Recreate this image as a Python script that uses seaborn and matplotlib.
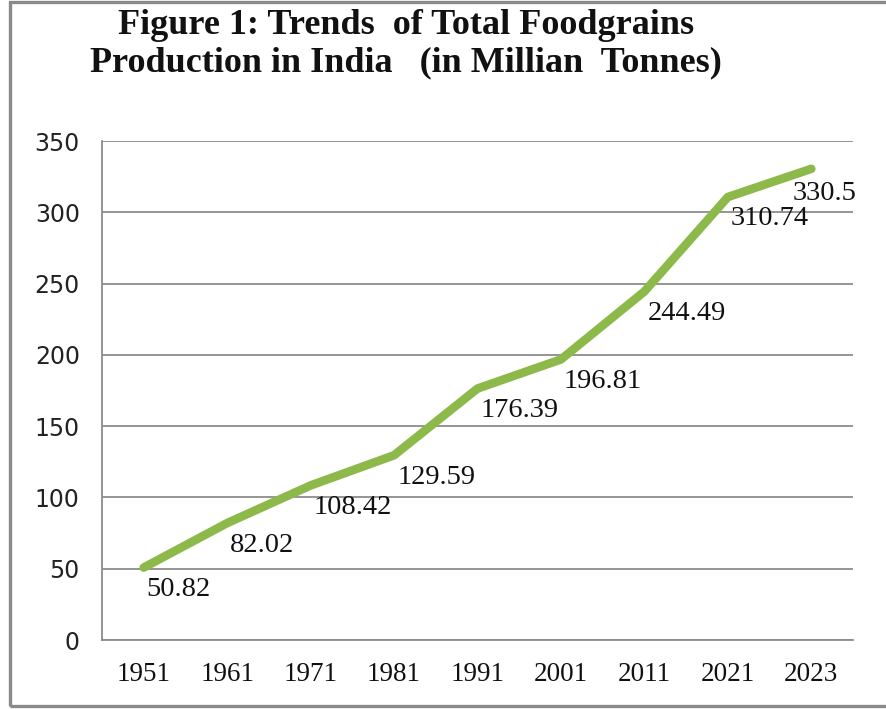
import matplotlib
matplotlib.use("Agg")
import matplotlib.pyplot as plt
import seaborn as sns
import pandas as pd
from matplotlib.patches import Rectangle

years = ["1951", "1961", "1971", "1981", "1991", "2001", "2011", "2021", "2023"]
production = [50.82, 82.02, 108.42, 129.59, 176.39, 196.81, 244.49, 310.74, 330.5]
value_labels = ["50.82", "82.02", "108.42", "129.59", "176.39", "196.81", "244.49", "310.74", "330.5"]
y_ticks = [0, 50, 100, 150, 200, 250, 300, 350]

df = pd.DataFrame({"Year": years, "Production": production})

sns.set_theme(style="white")
fig = plt.figure(figsize=(8.86, 7.09), dpi=100)
ax = fig.add_axes([0.1151, 0.0973, 0.8477, 0.7038])

sns.lineplot(data=df, x="Year", y="Production", ax=ax, color="#8DB84A",
             linewidth=6.2, sort=False)
for ln in ax.get_lines():
    ln.set_solid_capstyle("round")
    ln.set_solid_joinstyle("round")

ax.set_xlim(-0.5, len(years) - 0.5)
ax.set_ylim(0, 350)
ax.set_yticks(y_ticks)
ax.set_yticklabels([str(t) for t in y_ticks], family="DejaVu Sans", fontsize=17, color="#222222")
ax.set_xticks(range(len(years)))
ax.set_xticklabels(years, family="Liberation Serif", fontsize=19.5, color="#111111")
ax.tick_params(axis="x", length=0, pad=16)
ax.tick_params(axis="y", length=0, pad=16)
ax.set_xlabel("")
ax.set_ylabel("")

ax.yaxis.grid(True, color="#8c8c8c", linewidth=1.3)
ax.set_axisbelow(True)
for side in ["top", "right"]:
    ax.spines[side].set_visible(False)
for side in ["left", "bottom"]:
    ax.spines[side].set_color("#8c8c8c")
    ax.spines[side].set_linewidth(1.3)

for i, (v, lab) in enumerate(zip(production, value_labels)):
    dx = 3 if i < len(years) - 1 else -19
    dy = -22 if i < len(years) - 1 else -25
    ax.annotate(lab, xy=(i, v), xytext=(dx, dy), textcoords="offset pixels",
                ha="left", va="center", family="Liberation Serif", fontsize=20.5,
                color="#111111", annotation_clip=False)

fig.text(406 / 886, 1 - 26 / 709, "Figure 1: Trends  of Total Foodgrains",
         ha="center", va="center", family="Liberation Serif", fontweight="bold",
         fontsize=26, color="#111111")
fig.text(406 / 886, 1 - 63 / 709, "Production in India   (in Millian  Tonnes)",
         ha="center", va="center", family="Liberation Serif", fontweight="bold",
         fontsize=26, color="#111111")

fig.patches.append(Rectangle((9.5 / 886, 1 - 705.5 / 709), 1.0, 704 / 709,
                             transform=fig.transFigure, fill=False,
                             edgecolor="#8a8a8a", linewidth=2.4))

fig.savefig("out.png", dpi=100)
